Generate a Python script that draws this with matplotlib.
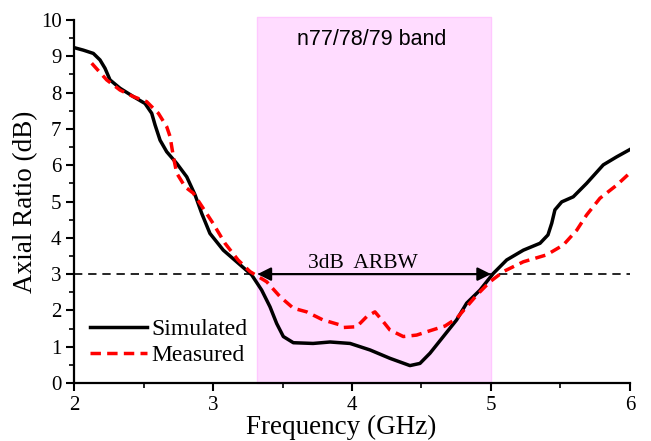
import matplotlib
matplotlib.use("Agg")
from matplotlib import pyplot as plt
from matplotlib.ticker import MultipleLocator

# simulated axial ratio (black solid)
sim_freq = [2.0, 2.067, 2.139, 2.187, 2.223, 2.259, 2.331, 2.427, 2.511, 2.559,
            2.583, 2.619, 2.667, 2.739, 2.811, 2.871, 2.919, 2.978, 3.074,
            3.182, 3.278, 3.35, 3.41, 3.458, 3.506, 3.578, 3.72, 3.842, 3.986,
            4.13, 4.273, 4.417, 4.489, 4.561, 4.657, 4.753, 4.825, 4.921,
            5.017, 5.113, 5.233, 5.353, 5.41, 5.437, 5.46, 5.509, 5.592,
            5.688, 5.808, 5.904, 6.036]
sim_ar = [9.24, 9.17, 9.08, 8.90, 8.67, 8.35, 8.12, 7.89, 7.70, 7.43,
          7.11, 6.69, 6.37, 6.05, 5.68, 5.18, 4.67, 4.12, 3.66,
          3.30, 2.98, 2.56, 2.10, 1.64, 1.28, 1.11, 1.09, 1.13, 1.09,
          0.91, 0.68, 0.48, 0.54, 0.82, 1.28, 1.74, 2.20, 2.56,
          3.02, 3.39, 3.66, 3.85, 4.08, 4.40, 4.77, 4.99, 5.13,
          5.50, 6.01, 6.23, 6.51]

# measured axial ratio (red dashed)
meas_freq = [2.127, 2.235, 2.331, 2.427, 2.523, 2.607, 2.667, 2.691, 2.715,
             2.739, 2.80, 2.858, 2.906, 3.00, 3.086, 3.18, 3.266, 3.386,
             3.482, 3.578, 3.674, 3.79, 3.914, 3.94, 4.034, 4.106, 4.165,
             4.225, 4.273, 4.369, 4.465, 4.561, 4.669, 4.753, 4.825, 4.897,
             4.993, 5.089, 5.233, 5.40, 5.52, 5.617, 5.688, 5.784, 5.904, 6.048]
meas_ar = [8.81, 8.35, 8.07, 7.89, 7.75, 7.43, 7.06, 6.79, 6.23,
           5.78, 5.40, 5.23, 4.95, 4.40, 3.85, 3.39, 3.07, 2.79,
           2.38, 2.06, 1.96, 1.74, 1.60, 1.53, 1.55, 1.83, 1.96,
           1.69, 1.46, 1.28, 1.32, 1.44, 1.57, 1.78, 2.10, 2.42,
           2.79, 3.07, 3.34, 3.53, 3.80, 4.21, 4.63, 5.09, 5.45, 5.96]

band = (3.32, 5.0)
ar_limit = 3
serif = "Liberation Serif"

fig = plt.figure(figsize=(6.51, 4.41), dpi=100)
ax = fig.add_axes([0.1137, 0.1315, 0.854, 0.8231])

# shaded n77/78/79 band
ax.fill_between(band, 0, 10.08, facecolor="#ffdcff", edgecolor="#ffc8ff",
                lw=1, zorder=0, clip_on=False)
ax.text(sum(band) / 2 - 0.02, 9.45, "n77/78/79 band", ha="center",
        va="center", fontsize=15.5, family="Liberation Sans")

ax.axhline(ar_limit, color="black", ls=(0, (5, 3.5)), lw=1.2, zorder=1)

ax.plot(sim_freq, sim_ar, color="black", lw=2.5, label="Simulated", zorder=3)
ax.plot(meas_freq, meas_ar, color="red", lw=2.5, ls=(0, (3, 1.8)),
        label="Measured", zorder=3)

# 3 dB axial ratio bandwidth arrow
ax.annotate("", xy=(band[0], ar_limit), xytext=(band[1], ar_limit),
            arrowprops=dict(arrowstyle="<|-|>", color="black", lw=1.6,
                            mutation_scale=20, shrinkA=0, shrinkB=0), zorder=4)
ax.text(4.08, 3.3, "3dB  ARBW", ha="center", va="center", fontsize=15.5,
        family=serif)

ax.set_xlim(2, 6)
ax.set_ylim(0, 10)
ax.xaxis.set_major_locator(MultipleLocator(1))
ax.xaxis.set_minor_locator(MultipleLocator(0.5))
ax.yaxis.set_major_locator(MultipleLocator(1))
ax.yaxis.set_minor_locator(MultipleLocator(0.5))
ax.spines["top"].set_visible(False)
ax.spines["right"].set_visible(False)
for s in ("left", "bottom"):
    ax.spines[s].set_linewidth(1.6)
ax.tick_params(which="major", direction="out", length=6, width=1.5,
               labelsize=15, pad=3)
ax.tick_params(which="minor", direction="out", length=3.5, width=1.2)
for lbl in ax.get_xticklabels() + ax.get_yticklabels():
    lbl.set_family(serif)

ax.set_xlabel("Frequency (GHz)", fontsize=19.5, family=serif)
ax.xaxis.set_label_coords(0.48, -0.088)
ax.set_ylabel("Axial Ratio (dB)", fontsize=19.5, family=serif, labelpad=2)

ax.legend(loc="upper left", bbox_to_anchor=(0.0288, 0.178), frameon=False,
          prop={"family": serif, "size": 17}, borderpad=0, borderaxespad=0,
          handlelength=2.4, handletextpad=0.2, labelspacing=0.2)

fig.savefig("out.png", dpi=100)
